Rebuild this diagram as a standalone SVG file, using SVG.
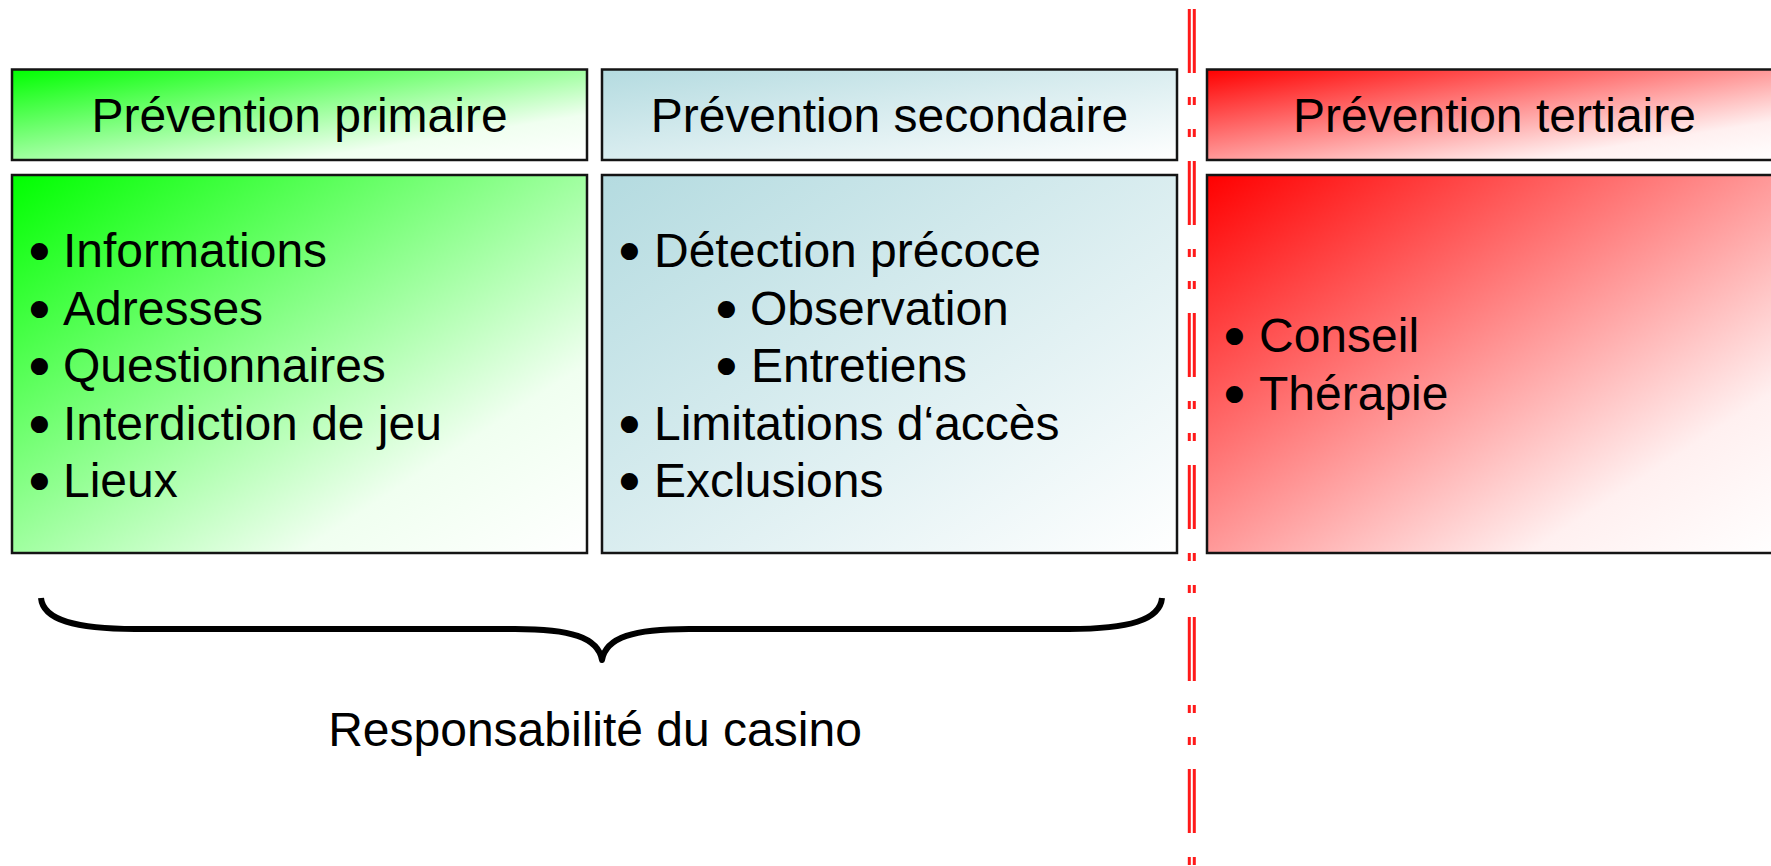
<svg xmlns="http://www.w3.org/2000/svg" width="1771" height="866" viewBox="0 0 1771 866">
<style>
.box{stroke:#141414;stroke-width:2.5}
.t{font-family:"Liberation Sans",Arial,sans-serif;font-size:48px;fill:#000}
.b{stroke:#000;stroke-width:4;stroke-linejoin:round}
.c{text-anchor:middle}
.sep{stroke:#ff1a1a;stroke-width:3;fill:none;stroke-dasharray:64 24 8 24 8 24}
.brace{fill:none;stroke:#000;stroke-width:6;stroke-linejoin:round}
</style>
<defs>
<linearGradient id="gGreen" x1="0" y1="0" x2="1" y2="1">
<stop offset="0" stop-color="#00ff00"/>
<stop offset="0.75" stop-color="#f0fff0"/>
<stop offset="1" stop-color="#ffffff"/>
</linearGradient>
<linearGradient id="gTeal" x1="0" y1="0" x2="1" y2="1">
<stop offset="0" stop-color="#b4dbe0"/>
<stop offset="1" stop-color="#ffffff"/>
</linearGradient>
<linearGradient id="gRed" x1="0" y1="0" x2="1" y2="1">
<stop offset="0" stop-color="#ff0000"/>
<stop offset="0.78" stop-color="#fff0f0"/>
<stop offset="1" stop-color="#ffffff"/>
</linearGradient>
</defs>
<rect width="1771" height="866" fill="#ffffff"/>

<g id="header-primaire">
<rect class="box" x="12" y="69.5" width="575" height="90.5" fill="url(#gGreen)"/>
<text class="t c" x="299.5" y="132">Prévention primaire</text>
</g>
<g id="header-secondaire">
<rect class="box" x="602" y="69.5" width="575" height="90.5" fill="url(#gTeal)"/>
<text class="t c" x="889.5" y="132">Prévention secondaire</text>
</g>
<g id="header-tertiaire">
<rect class="box" x="1207" y="69.5" width="575" height="90.5" fill="url(#gRed)"/>
<text class="t c" x="1494.5" y="132">Prévention tertiaire</text>
</g>

<g id="body-primaire">
<rect class="box" x="12" y="175" width="575" height="378" fill="url(#gGreen)"/>
<text class="t" y="267"><tspan class="b" x="31">•</tspan><tspan x="63">Informations</tspan></text>
<text class="t" y="324.5"><tspan class="b" x="31">•</tspan><tspan x="63">Adresses</tspan></text>
<text class="t" y="382"><tspan class="b" x="31">•</tspan><tspan x="63">Questionnaires</tspan></text>
<text class="t" y="439.5"><tspan class="b" x="31">•</tspan><tspan x="63">Interdiction de jeu</tspan></text>
<text class="t" y="497"><tspan class="b" x="31">•</tspan><tspan x="63">Lieux</tspan></text>
</g>
<g id="body-secondaire">
<rect class="box" x="602" y="175" width="575" height="378" fill="url(#gTeal)"/>
<text class="t" y="267"><tspan class="b" x="621">•</tspan><tspan x="654">Détection précoce</tspan></text>
<text class="t" y="324.5"><tspan class="b" x="718">•</tspan><tspan x="750">Observation</tspan></text>
<text class="t" y="382"><tspan class="b" x="718">•</tspan><tspan x="751">Entretiens</tspan></text>
<text class="t" y="439.5"><tspan class="b" x="621">•</tspan><tspan x="654">Limitations d‘accès</tspan></text>
<text class="t" y="497"><tspan class="b" x="621">•</tspan><tspan x="654">Exclusions</tspan></text>
</g>
<g id="body-tertiaire">
<rect class="box" x="1207" y="175" width="575" height="378" fill="url(#gRed)"/>
<text class="t" y="352"><tspan class="b" x="1226">•</tspan><tspan x="1259">Conseil</tspan></text>
<text class="t" y="410"><tspan class="b" x="1226">•</tspan><tspan x="1259">Thérapie</tspan></text>
</g>

<g id="separator">
<line class="sep" x1="1189.3" y1="9" x2="1189.3" y2="866"/>
<line class="sep" x1="1194.3" y1="9" x2="1194.3" y2="866"/>
</g>

<g id="brace-casino">
<path class="brace" d="M41,598 C43,620 75,629 135,629 L515,629 C570,629 598,637 602,660 C606,637 634,629 689,629 L1069,629 C1129,629 1160,620 1162,598"/>
<text class="t c" x="595" y="746">Responsabilité du casino</text>
</g>
</svg>
